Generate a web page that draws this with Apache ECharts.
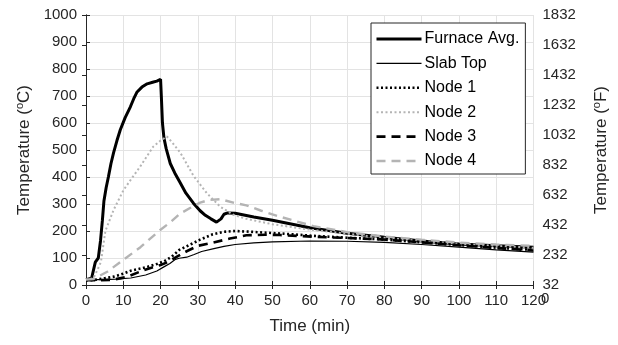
<!DOCTYPE html>
<html>
<head>
<meta charset="utf-8">
<script src="https://cdn.jsdelivr.net/npm/echarts@6/dist/echarts.min.js"></script>
<style>
  html, body { margin: 0; padding: 0; background: #fff; }
  #chart { width: 618px; height: 345px; }
</style>
</head>
<body>
<div id="chart"></div>
<script>
// values: [time (min), temperature (°C)]
const furnaceAvg = [
  [0, 20], [1.5, 25], [2.5, 85], [3.3, 100], [3.9, 165], [4.4, 240], [4.8, 310],
  [5.4, 360], [6, 400], [6.7, 450], [7.4, 490], [8.3, 535], [9.2, 575],
  [10.5, 620], [11.9, 660], [12.8, 690], [13.7, 715], [15, 733], [16.4, 745],
  [18.1, 752], [19, 755], [20, 762], [20.2, 700], [20.5, 600], [20.9, 545],
  [21.5, 505], [22.6, 450], [23.8, 415], [25, 385], [26.8, 340], [28.8, 303],
  [30.6, 275], [32, 258], [33.5, 245], [35, 233], [35.5, 228], [36.2, 245],
  [37, 262], [38, 267], [40, 266], [45, 252], [50, 240], [60, 212], [70, 192],
  [80, 177], [90, 163], [100, 152], [110, 145], [120, 140]
];
const slabTop = [
  [0, 20], [5, 20], [8, 22], [12, 26], [16, 37], [19, 52], [21, 68], [22.5, 80],
  [24, 95], [25, 99], [27, 103], [29, 113], [31, 124], [34, 134], [37, 143],
  [40, 150], [45, 156], [50, 160], [60, 163], [70, 162], [80, 158], [90, 150],
  [100, 140], [110, 130], [120, 122]
];
const node1 = [
  [0, 18], [2, 18], [5, 25], [7.5, 31], [10, 42], [12, 53], [16, 65], [19, 78],
  [21, 88], [23, 105], [25, 130], [28, 150], [30.6, 168], [34, 188], [37, 197],
  [40, 200], [43, 198], [52, 191], [61, 182], [70, 175], [79, 169], [90, 158],
  [100, 148], [110, 138], [120, 130]
];
const node2 = [
  [0, 20], [2, 25], [3.2, 60], [4, 85], [5.2, 200], [7.4, 278], [10, 350],
  [12, 390], [14.6, 440], [18, 512], [20, 535], [21.7, 550], [23, 530],
  [25.3, 490], [28.8, 405], [32.4, 340], [36, 290], [39.5, 260], [43, 245],
  [50, 225], [60, 205], [70, 190], [80, 175], [90, 163], [100, 153], [110, 145],
  [120, 138]
];
const node3 = [
  [0, 18], [4, 18], [7, 19], [11, 30], [15.5, 55], [20, 74], [22, 85],
  [24.4, 105], [27, 125], [30, 145], [34, 157], [38.6, 172], [43, 184], [48, 186],
  [52, 185], [61, 179], [70, 174], [79, 169], [90, 158], [100, 147], [110, 137],
  [120, 128]
];
const node4 = [
  [0, 20], [2, 22], [5.7, 49], [10, 93], [14.6, 140], [19.9, 204], [22.6, 232],
  [25.3, 265], [27.9, 285], [30.6, 305], [33, 315], [36, 318], [39.5, 305],
  [43, 295], [47, 275], [52, 253], [61, 218], [70, 196], [79, 181], [90, 168],
  [100, 157], [110, 150], [120, 145]
];

const FONT = "Liberation Sans";
const AXIS = "#262626";
const GRID = "#e3e3e3";
const GRAY = "#b4b4b4";
const DOT = [2, 2.5];
const DASH = [9, 6];

// name, data, colour, width, dash
const seriesDefs = [
  ["Furnace Avg.", furnaceAvg, "#000", 3, "solid"],
  ["Slab Top", slabTop, "#000", 1.2, "solid"],
  ["Node 1", node1, "#000", 2.6, DOT],
  ["Node 2", node2, GRAY, 2, DOT],
  ["Node 3", node3, "#000", 2.6, DASH],
  ["Node 4", node4, GRAY, 2.4, DASH],
];

const chart = echarts.init(document.getElementById("chart"), null, { renderer: "canvas" });

const tickLabel = { color: AXIS, fontFamily: FONT, fontSize: 15 };
const titleStyle = {
  color: AXIS,
  fontFamily: FONT,
  fontSize: 17,
  rich: { sup: { fontFamily: FONT, fontSize: 11, color: AXIS, padding: [0, 0, 9, 0] } },
};

chart.setOption({
  animation: false,
  backgroundColor: "#fff",
  grid: { left: 86, right: 83, top: 15, bottom: 60 },
  legend: {
    orient: "vertical",
    left: 371,
    top: 23,
    padding: [8, 6, 5, 4],
    itemWidth: 45,
    itemHeight: 14,
    itemGap: 8.4,
    backgroundColor: "#fff",
    borderColor: "#262626",
    borderWidth: 1,
    // hide the marker ECharts adds in the middle of each line sample
    itemStyle: { color: "rgba(0,0,0,0)", borderWidth: 0, opacity: 0 },
    data: seriesDefs.map(([name, , color, width, type]) => ({
      name,
      lineStyle: { color, width, type },
    })),
    textStyle: { color: "#000", fontFamily: FONT, fontSize: 16, lineHeight: 14, padding: [0, 0, 0, -2] },
  },
  xAxis: [
    {
      type: "value",
      min: 0,
      max: 120,
      interval: 10,
      name: "Time (min)",
      nameLocation: "middle",
      nameGap: 33,
      nameTextStyle: titleStyle,
      axisLine: { lineStyle: { color: AXIS } },
      axisTick: { inside: true, length: 4, lineStyle: { color: AXIS } },
      axisLabel: { ...tickLabel, margin: 8 },
      splitLine: { show: true, lineStyle: { color: GRID } },
    },
    {
      type: "value",
      position: "top",
      min: 0,
      max: 120,
      interval: 10,
      axisLine: { lineStyle: { color: AXIS } },
      axisTick: { inside: true, length: 4, lineStyle: { color: AXIS } },
      axisLabel: { show: false },
      splitLine: { show: false },
    },
  ],
  yAxis: [
    {
      type: "value",
      min: 0,
      max: 1000,
      interval: 100,
      name: "Temperature ({sup|o}C)",
      nameLocation: "middle",
      nameGap: 44,
      nameRotate: 90,
      nameTextStyle: titleStyle,
      axisLine: { show: true, lineStyle: { color: AXIS } },
      axisTick: { show: true, inside: true, length: 4, lineStyle: { color: AXIS } },
      axisLabel: { ...tickLabel, margin: 9, formatter: (v) => String(v) },
      splitLine: { show: true, lineStyle: { color: GRID } },
    },
    {
      type: "value",
      position: "right",
      min: 0,
      max: 1000,
      interval: 1000 / 9,
      name: "Temperature ({sup|o}F)",
      nameLocation: "middle",
      nameGap: 58,
      nameRotate: 90,
      nameTextStyle: titleStyle,
      axisLine: { show: true, lineStyle: { color: AXIS } },
      axisTick: { show: true, inside: true, length: 4, lineStyle: { color: AXIS } },
      axisLabel: {
        ...tickLabel,
        margin: 9,
        formatter: (v) => String(Math.round(v * 1.8 + 32)),
      },
      splitLine: { show: false },
    },
  ],
  graphic: [
    {
      type: "text",
      left: 541,
      top: 291,
      style: { text: "0", fill: AXIS, font: "15px " + FONT },
    },
  ],
  series: seriesDefs.map(([name, data, color, width, type]) => ({
    name,
    type: "line",
    data,
    symbol: "none",
    lineStyle: { color, width, type },
    itemStyle: { color },
  })),
});
</script>
</body>
</html>
